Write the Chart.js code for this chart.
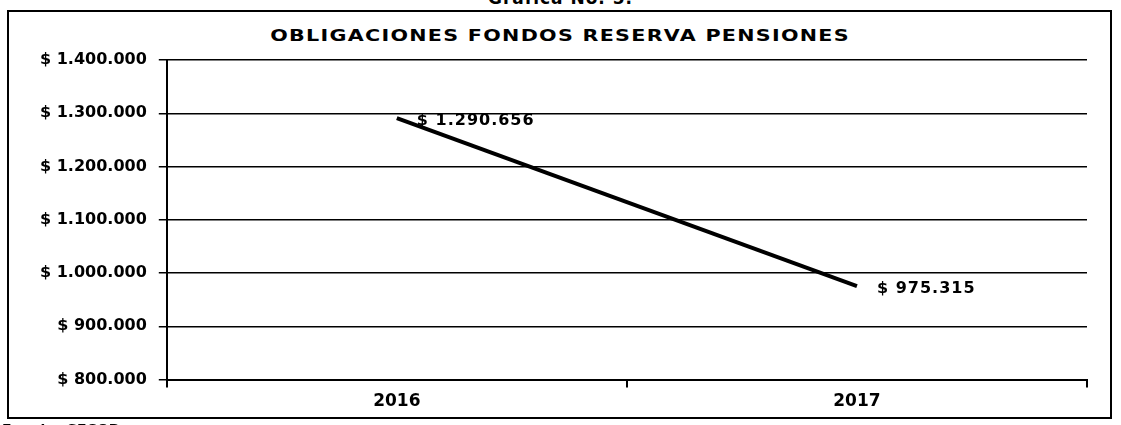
<!DOCTYPE html>
<html>
<head>
<meta charset="utf-8">
<script src="https://cdn.jsdelivr.net/npm/chart.js@4.4.1/dist/chart.umd.min.js"></script>
<style>
  html, body { margin: 0; padding: 0; background: #fff; overflow: hidden; }
  #wrap { position: relative; width: 1121px; height: 425px; overflow: hidden; }
  #chart-box { position: absolute; left: 0; top: 0; width: 1121px; height: 425px; }
  #frame { position: absolute; left: 7px; top: 10px; width: 1101px; height: 405px; border: 2px solid #000; pointer-events: none; }
  .caption-top { position: absolute; left: 0; top: -12px; width: 1121px; text-align: center; font: bold 17px "DejaVu Sans", sans-serif; letter-spacing: 1px; color: #000; }
  .chart-title { position: absolute; left: 0; top: 26px; width: 1121px; line-height: 20px; text-align: center; font: bold 16px "DejaVu Sans", sans-serif; letter-spacing: 1px; color: #000; transform: scaleX(1.29); transform-origin: 562px 50%; }
  .source { position: absolute; left: 2px; top: 421px; font: bold 14px "DejaVu Sans", sans-serif; color: #000; }
</style>
</head>
<body>
<div id="wrap">
  <div class="caption-top">Gráfica No. 5.</div>
  <div id="frame"></div>
  <div class="chart-title">OBLIGACIONES FONDOS RESERVA PENSIONES</div>
  <div id="chart-box"><canvas id="chart"></canvas></div>
  <div class="source">Fuente: SECOP</div>
</div>
<script>
// Data
const years = ['2016', '2017'];
const obligations = [1290656, 975315];
const axisMin = 800000;
const axisMax = 1400000;
const axisStep = 100000;

function formatMoney(num) {
  return '$ ' + String(num).replace(/\B(?=(\d{3})+(?!\d))/g, '.');
}

// Value labels to the right of each point
const valueLabelsPlugin = {
  id: 'valueLabels',
  afterDatasetsDraw(chart) {
    const ctx = chart.ctx;
    const meta = chart.getDatasetMeta(0);
    ctx.save();
    ctx.letterSpacing = '1px';
    ctx.font = 'bold 16px "DejaVu Sans"';
    ctx.fillStyle = '#000';
    ctx.textAlign = 'left';
    ctx.textBaseline = 'middle';
    meta.data.forEach((pt, i) => {
      ctx.fillText(formatMoney(obligations[i]), pt.x + 20, pt.y + 3);
    });
    ctx.restore();
  }
};

const ctx = document.getElementById('chart');

new Chart(ctx, {
  type: 'line',
  data: {
    labels: years,
    datasets: [{
      label: 'Obligaciones',
      data: obligations,
      borderColor: '#000',
      borderWidth: 4,
      pointRadius: 0,
      tension: 0,
      fill: false
    }]
  },
  options: {
    responsive: true,
    maintainAspectRatio: false,
    animation: false,
    layout: {
      padding: { top: 60, left: 28, right: 34, bottom: 9 }
    },
    plugins: {
      legend: { display: false },
      tooltip: { enabled: false },
      title: { display: false }
    },
    scales: {
      x: {
        offset: true,
        grid: {
          offset: true,
          drawOnChartArea: false,
          drawTicks: true,
          tickLength: 8,
          color: '#000',
          lineWidth: 2
        },
        border: { display: true, color: '#000', width: 2 },
        ticks: {
          color: '#000',
          padding: 4,
          font: { family: 'DejaVu Sans', size: 17, weight: 'bold' }
        }
      },
      y: {
        min: axisMin,
        max: axisMax,
        grid: {
          color: '#000',
          lineWidth: 1.5,
          tickLength: 8
        },
        border: { display: true, color: '#000', width: 2 },
        ticks: {
          stepSize: axisStep,
          color: '#000',
          padding: 12,
          font: { family: 'DejaVu Sans', size: 16, weight: 'bold' },
          callback: value => formatMoney(value)
        }
      }
    }
  },
  plugins: [valueLabelsPlugin]
});
</script>
</body>
</html>
